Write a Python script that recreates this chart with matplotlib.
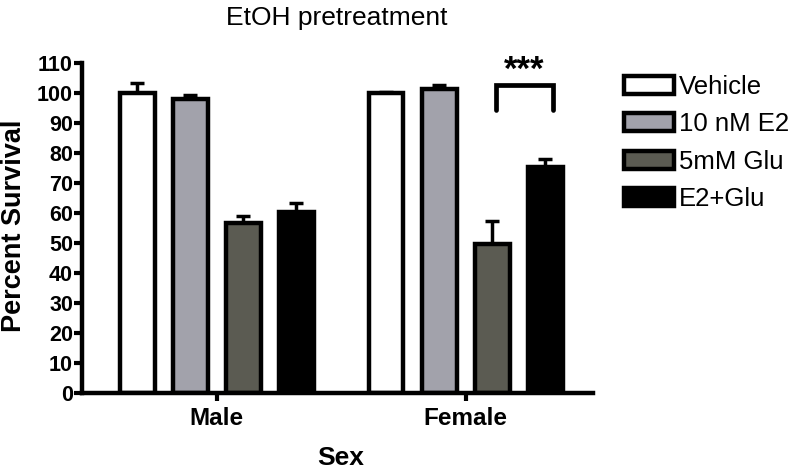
import numpy as np
import matplotlib
matplotlib.use("Agg")
import matplotlib.pyplot as plt

plt.rcParams["font.family"] = ["Liberation Sans", "DejaVu Sans"]

# data
groups = ["Male", "Female"]
treatments = ["Vehicle", "10 nM E2", "5mM Glu", "E2+Glu"]
vehicle = [100.0, 100.0]
e2 = [98.0, 101.3]
glu = [56.6, 49.6]
e2_glu = [60.4, 75.5]
vehicle_err = [3.5, 0.5]
e2_err = [1.5, 1.6]
glu_err = [2.3, 7.7]
e2_glu_err = [2.8, 2.5]
colors = ["#ffffff", "#a2a2ab", "#5b5b52", "#000000"]
y_ticks = list(range(0, 111, 10))

values = [vehicle, e2, glu, e2_glu]
errors = [vehicle_err, e2_err, glu_err, e2_glu_err]

fig = plt.figure(figsize=(8, 4.71), dpi=100)
ax = fig.add_axes([0.1025, 0.1662, 0.6385, 0.6994])

x = np.arange(len(groups))
step = 0.213
width = 0.138
handles = []
for i, (vals, errs) in enumerate(zip(values, errors)):
    pos = x + (i - 1.5) * step
    ax.errorbar(pos, vals, yerr=[np.zeros(len(errs)), errs], fmt="none",
                ecolor="black", elinewidth=2.5, capsize=4.7, capthick=2.5,
                zorder=1)
    b = ax.bar(pos, vals, width=width, color=colors[i], edgecolor="black",
               linewidth=3.2, zorder=2, label=treatments[i])
    handles.append(b)

# significance bracket between Glu and E2+Glu in Female group
bx0 = x[1] + 0.5 * step + 0.015
bx1 = x[1] + 1.5 * step + 0.03
ax.plot([bx0, bx0, bx1, bx1], [94.4, 102.7, 102.7, 94.4], color="black",
        lw=3.4, solid_capstyle="round", solid_joinstyle="miter",
        clip_on=False, zorder=3)
ax.text((bx0 + bx1) / 2, 107.5, "***", ha="center", va="center",
        fontsize=25, fontweight="bold", clip_on=False)

ax.set_xlim(-0.542, 1.510)
ax.set_ylim(0, 110)
ax.set_yticks(y_ticks)
ax.set_yticklabels([str(t) for t in y_ticks], fontsize=15.5, fontweight="bold")
ax.set_xticks(x)
ax.set_xticklabels(groups, fontsize=17.5, fontweight="bold")
ax.tick_params(axis="y", direction="out", length=6, width=3, pad=0.5)
ax.tick_params(axis="x", direction="out", length=6, width=3, pad=4)
for side in ["top", "right"]:
    ax.spines[side].set_visible(False)
for side in ["left", "bottom"]:
    ax.spines[side].set_linewidth(3.2)

fig.text(337 / 800, 1 - 25 / 471, "EtOH pretreatment", ha="center",
         va="baseline", fontsize=19)
fig.text(14 / 800, 0.52, "Percent Survival", rotation=90, ha="center",
         va="center", fontsize=19.5, fontweight="bold")
fig.text(341 / 800, 1 - 465 / 471, "Sex", ha="center", va="baseline",
         fontsize=19, fontweight="bold")

leg = fig.legend(handles=handles, loc="upper left",
                 bbox_to_anchor=(624 / 800, 1 - 75 / 471), frameon=False,
                 fontsize=18.5, handlelength=1.95, handleheight=0.7,
                 handletextpad=0.2, labelspacing=0.52, borderpad=0,
                 borderaxespad=0)

fig.savefig("out.png", dpi=100)
